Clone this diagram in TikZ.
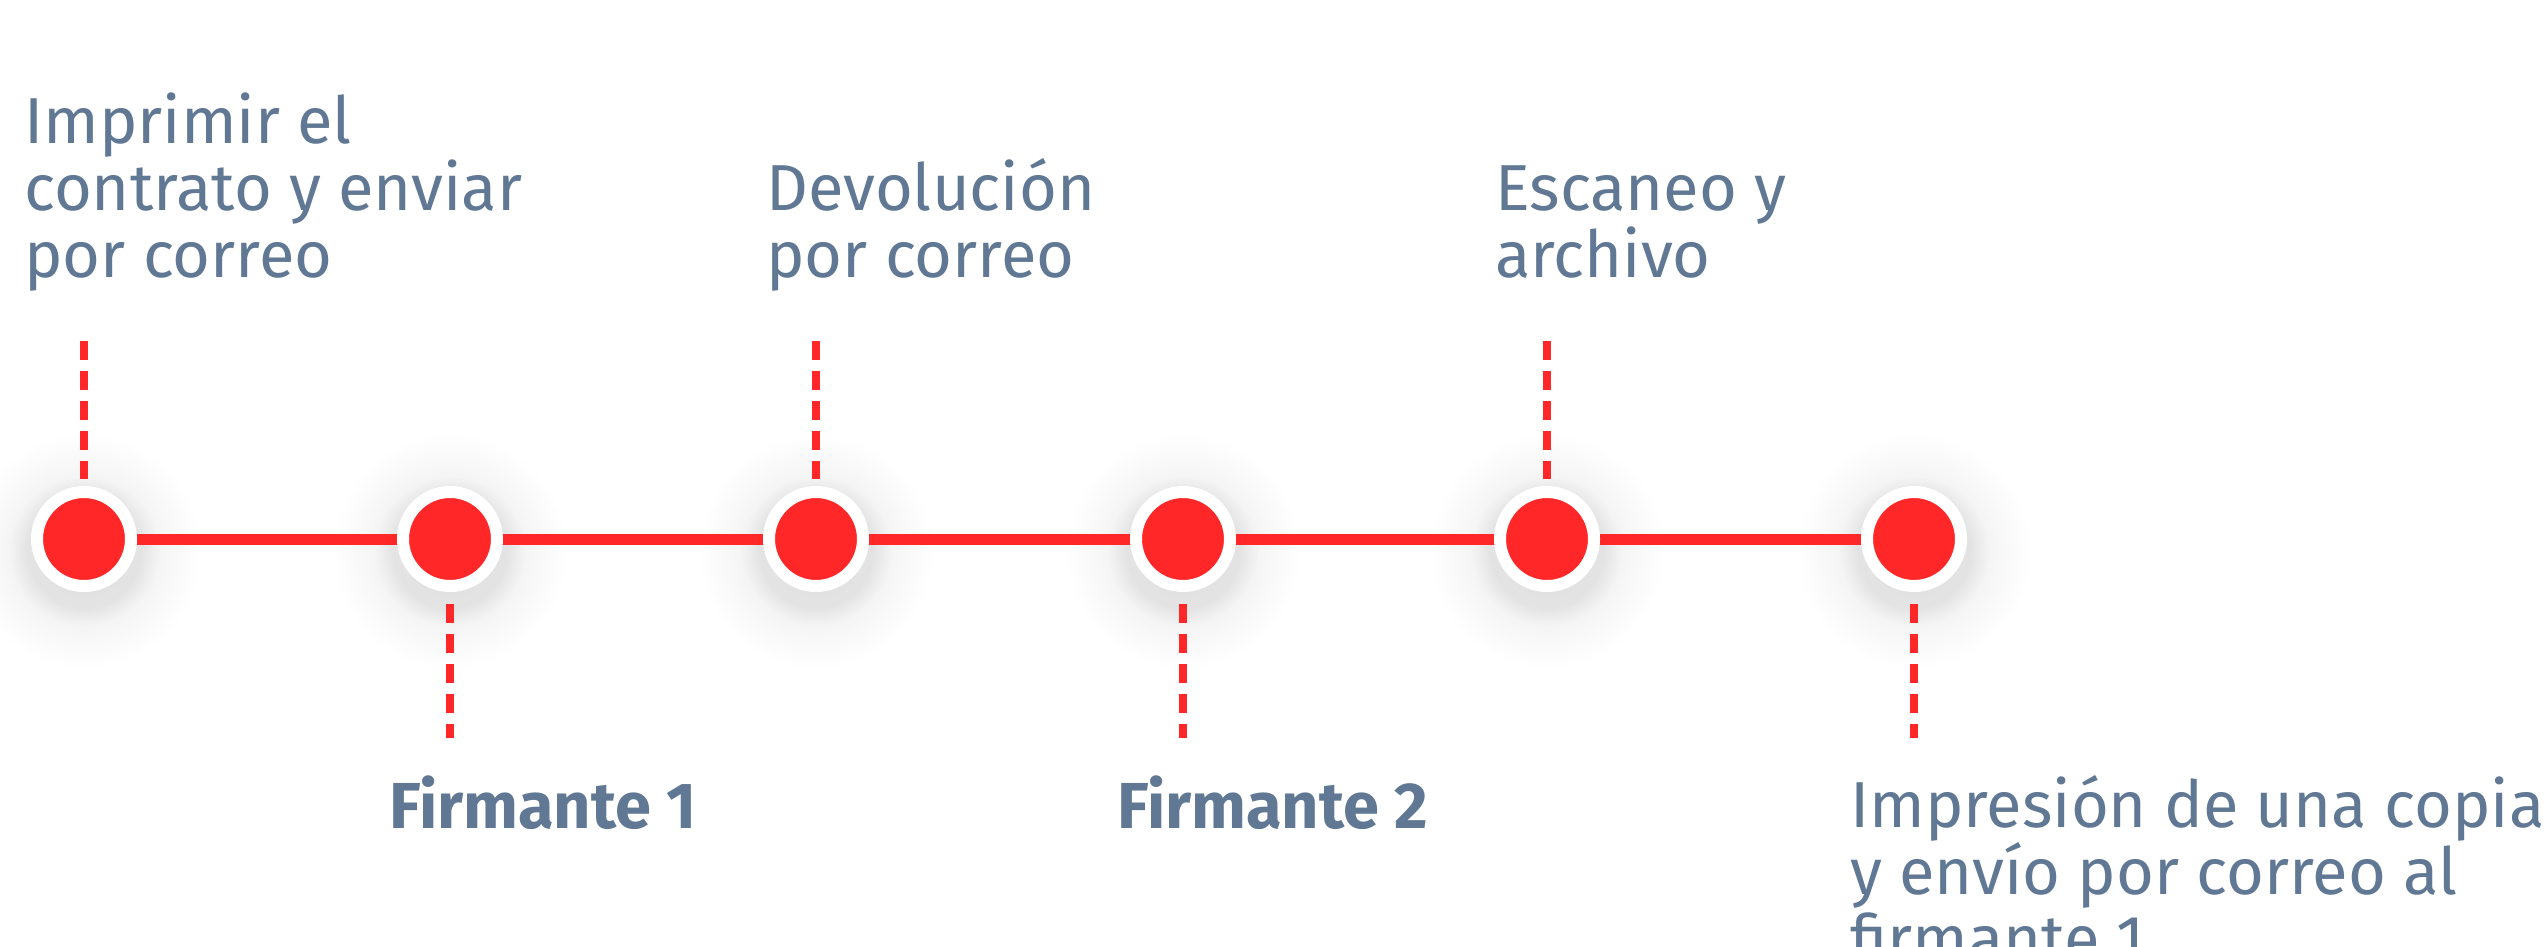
\documentclass[tikz,border=0pt]{standalone}
\usepackage{fontspec}
\setmainfont{Fira Sans}
\usetikzlibrary{backgrounds}
\definecolor{tlred}{RGB}{255,39,39}
\definecolor{tltext}{RGB}{96,120,148}
\pgfdeclareradialshading{softshadow}{\pgfpoint{0bp}{0bp}}{color(0bp)=(black!12); color(12bp)=(black!11); color(16bp)=(black!4); color(25bp)=(white); color(50bp)=(white)}
\tikzset{
  dot/.style={circle, fill=tlred, draw=white, line width=12pt, minimum size=94pt, inner sep=0pt},
  mainline/.style={draw=tlred, line width=11pt},
  dashline/.style={draw=tlred, line width=8pt, dash pattern=on 19pt off 11pt},
  desc/.style={text=tltext, font=\fontsize{65}{67}\selectfont, align=left, inner sep=0pt, anchor=base west},
  who/.style={text=tltext, font=\bfseries\fontsize{65}{67}\selectfont, align=left, inner sep=0pt, anchor=base west},
}
\begin{document}
\begin{tikzpicture}[x=1pt,y=-1pt]
\useasboundingbox (0,0) rectangle (2545,947);
\clip (0,0) rectangle (2545,947);
% circles
\node[dot] (c1) at (84,539) {};
\node[dot] (c2) at (450,539) {};
\node[dot] (c3) at (816,539) {};
\node[dot] (c4) at (1183,539) {};
\node[dot] (c5) at (1547,539) {};
\node[dot] (c6) at (1914,539) {};
\begin{pgfonlayer}{background}
  \fill[white] (0,0) rectangle (2545,947);
  \foreach \x in {84,450,816,1183,1547,1914}
    \shade[shading=softshadow] (\x,551) circle (118);
  \draw[mainline] (c1) -- (c6);
\end{pgfonlayer}
% dashed connector ends
\coordinate (d1) at (84,341);
\coordinate (d3) at (816,341);
\coordinate (d5) at (1547,341);
\coordinate (e2) at (450,738);
\coordinate (e4) at (1183,738);
\coordinate (e6) at (1914,738);
\draw[dashline, shorten >=7pt] (d1) -- (c1.north);
\draw[dashline, shorten >=7pt] (d3) -- (c3.north);
\draw[dashline, shorten >=7pt] (d5) -- (c5.north);
\draw[dashline, shorten <=12pt] (c2.south) -- (e2);
\draw[dashline, shorten <=12pt] (c4.south) -- (e4);
\draw[dashline, shorten <=12pt] (c6.south) -- (e6);
% texts
\node[desc] (t1) at (24,277) {Imprimir el\\contrato y enviar\\por correo};
\node[desc] (t3) at (766,277) {Devolución\\por correo};
\node[desc] (t5) at (1495,277) {Escaneo y\\archivo};
\node[who] (b2) at (389,828) {Firmante 1};
\node[who] (b4) at (1117,828) {Firmante 2};
\node[desc] (b6) at (1850,961) {Impresión de una copia\\y envío por correo al\\firmante 1};
\end{tikzpicture}
\end{document}
